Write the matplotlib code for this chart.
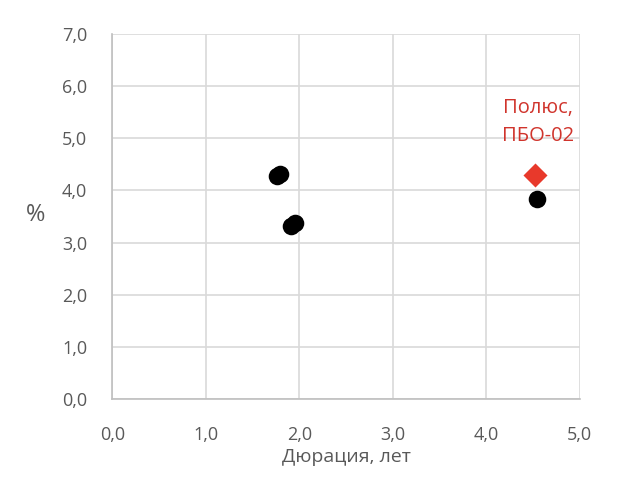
import matplotlib
matplotlib.use("Agg")
import matplotlib.pyplot as plt
from matplotlib.ticker import FuncFormatter

plt.rcParams['font.family'] = ['Open Sans', 'DejaVu Sans']

# data
peers_x = [1.76, 1.79, 1.91, 1.95, 4.54]
peers_y = [4.28, 4.31, 3.32, 3.38, 3.84]
polus_x = [4.52]
polus_y = [4.29]
polus_label = "Полюс,\nПБО-02"
x_ticks = [0, 1, 2, 3, 4, 5]
y_ticks = [0, 1, 2, 3, 4, 5, 6, 7]

fig = plt.figure(figsize=(6.2, 5.04), dpi=100)
ax = fig.add_axes([0.181, 0.208, 0.754, 0.725])

ax.scatter(peers_x, peers_y, s=160, color='black', zorder=3, linewidths=0)
ax.scatter(polus_x, polus_y, s=150, marker='D', color='#e8392b', zorder=3, linewidths=0)
ax.text(polus_x[0] + 0.03, 4.85, polus_label, color='#d0342c', fontsize=14.5,
        ha='center', va='bottom', linespacing=1.55, fontweight='medium')

ax.set_xlim(0, 5)
ax.set_ylim(0, 7)
ax.set_xticks(x_ticks)
ax.set_yticks(y_ticks)
fmt = FuncFormatter(lambda v, p: f"{v:.1f}".replace('.', ','))
ax.xaxis.set_major_formatter(fmt)
ax.yaxis.set_major_formatter(fmt)
ax.grid(True, color='#d9d9d9', linewidth=1.2)
ax.set_axisbelow(True)
for s in ['top', 'right']:
    ax.spines[s].set_visible(False)
for s in ['left', 'bottom']:
    ax.spines[s].set_color('#bfbfbf')
    ax.spines[s].set_linewidth(1.2)
ax.tick_params(axis='x', length=0, labelsize=13, colors='#595959', pad=19)
ax.tick_params(axis='y', length=0, labelsize=13, colors='#595959', pad=18)
ax.set_xlabel("Дюрация, лет", fontsize=14, color='#595959', labelpad=3)
ax.set_ylabel("%", fontsize=17, color='#595959', rotation=0)
ax.yaxis.set_label_coords(-0.165, 0.47)

fig.savefig("out.png", dpi=100)
